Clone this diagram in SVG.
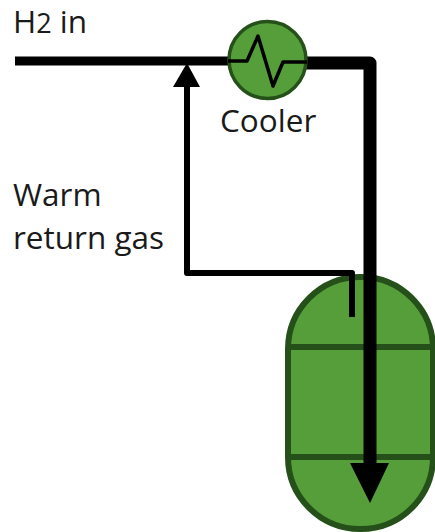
<svg xmlns="http://www.w3.org/2000/svg" width="435" height="532" viewBox="0 0 435 532">
<style>
.t{font-family:"Open Sans","Liberation Sans",sans-serif;font-size:31.500px;fill:#1a1a1a}
.g{fill:#559e3a;stroke:#25501a}
.l{fill:none;stroke:#000;stroke-linejoin:round}
.b{stroke:#25501a;stroke-width:6;fill:none}
</style>
<rect width="435" height="532" fill="#fff"/>
<g id="vessel">
<rect class="g" x="288" y="277" width="145" height="252" rx="72" ry="72" stroke-width="6"/>
<line class="b" x1="288" y1="347" x2="433" y2="347"/>
<line class="b" x1="288" y1="457" x2="433" y2="457"/>
</g>
<g id="connectors">
<path class="l" stroke-width="9" d="M15 61H232"/>
<path class="l" stroke-width="13" d="M300 63H370V465"/>
<path d="M350 463H389L370 503Z" fill="#000"/>
<path class="l" stroke-width="6" d="M352 317V273H187V85"/>
<path d="M173 87H200L187 63Z" fill="#000"/>
</g>
<g id="cooler">
<circle class="g" cx="267.500" cy="60" r="38.500" stroke-width="3.500"/>
<path class="l" stroke-width="3.500" d="M228 61H247L258 36L273 86L283 62H307"/>
<text class="t" x="220" y="132">Cooler</text>
</g>
<g id="labels">
<text class="t" x="13" y="33">H<tspan font-size="27">2</tspan> in</text>
<text class="t" x="13" y="206">Warm</text>
<text class="t" x="13" y="249">return gas</text>
</g>
</svg>
